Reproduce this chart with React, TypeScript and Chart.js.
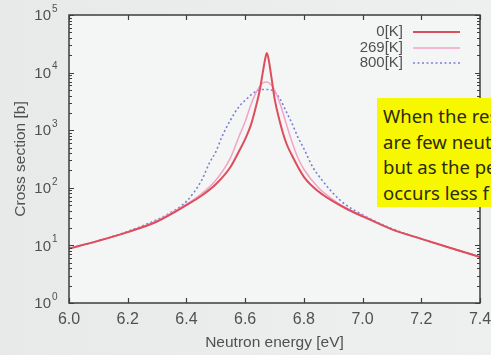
import React, { useEffect, useRef } from "react";
import { Chart, registerables } from "chart.js";

Chart.register(...registerables);

// ---- Data ----
const E_0K = [6.0, 6.1, 6.2, 6.3, 6.4, 6.45, 6.5, 6.55, 6.58, 6.6, 6.62, 6.64, 6.65, 6.66, 6.67, 6.674, 6.68, 6.69, 6.7, 6.72, 6.74, 6.76, 6.8, 6.85, 6.9, 6.95, 7.0, 7.1, 7.2, 7.3, 7.4];
const XS_0K = [8.8, 12, 17, 26, 50, 72, 115, 230, 440, 700, 1250, 3000, 5000, 10000, 19000, 22000, 17000, 8000, 3600, 1300, 600, 360, 155, 86, 58, 42, 32, 19, 13, 9, 6.3];

const E_269K = [6.0, 6.1, 6.2, 6.3, 6.4, 6.45, 6.5, 6.55, 6.58, 6.6, 6.62, 6.64, 6.66, 6.674, 6.69, 6.7, 6.72, 6.74, 6.76, 6.78, 6.8, 6.85, 6.9, 6.95, 7.0, 7.1, 7.2, 7.3, 7.4];
const XS_269K = [8.8, 12, 17, 27, 52, 78, 135, 330, 800, 1400, 2800, 4800, 6600, 6900, 6000, 5000, 2800, 1300, 620, 330, 210, 100, 62, 43, 33, 19, 13, 9, 6.3];

const E_800K = [6.0, 6.1, 6.2, 6.3, 6.35, 6.4, 6.45, 6.48, 6.5, 6.52, 6.55, 6.58, 6.6, 6.62, 6.64, 6.66, 6.68, 6.7, 6.72, 6.74, 6.76, 6.78, 6.8, 6.83, 6.86, 6.9, 6.94, 7.0, 7.1, 7.2, 7.3, 7.4];
const XS_800K = [8.8, 12, 17.5, 28, 38, 58, 130, 280, 420, 750, 1500, 2600, 3300, 4100, 4800, 5100, 5100, 4600, 3400, 2100, 1300, 750, 480, 230, 140, 80, 52, 34, 19.5, 13, 9, 6.3];

const SERIES_LABELS = ["0[K]", "269[K]", "800[K]"];
const X_TICKS = [6.0, 6.2, 6.4, 6.6, 6.8, 7.0, 7.2, 7.4];
const X_TICK_LABELS = ["6.0", "6.2", "6.4", "6.6", "6.8", "7.0", "7.2", "7.4"];
const Y_DECADES = [0, 1, 2, 3, 4, 5];
const Y_MINOR = [2, 3, 4, 5, 6, 7, 8, 9];
const X_TITLE = "Neutron energy [eV]";
const Y_TITLE = "Cross section [b]";
const NOTE_LINES = ["When the res", "are few neut", "but as the pe", "occurs less f"];

const toPoints = (xs: number[], ys: number[]) => xs.map((x, i) => ({ x, y: ys[i] }));

const FONT = '"Liberation Sans", Arial, sans-serif';
const TEXT = "#505050";
const FRAME = "#3d3d3d";

const framePlugin = {
  id: "framePlugin",
  beforeDatasetsDraw(chart: any) {
    const { ctx, chartArea: a } = chart;
    ctx.save();
    ctx.fillStyle = "#f4f6f5";
    ctx.fillRect(a.left, a.top, a.right - a.left, a.bottom - a.top);
    ctx.restore();
  },
  afterDatasetsDraw(chart: any) {
    const { ctx, chartArea: a } = chart;
    const xs = chart.scales.x;
    const ys = chart.scales.y;
    ctx.save();
    ctx.strokeStyle = FRAME;
    ctx.lineWidth = 1.5;
    ctx.strokeRect(a.left, a.top, a.right - a.left, a.bottom - a.top);

    ctx.lineWidth = 1.2;
    ctx.beginPath();
    X_TICKS.forEach((v) => {
      const px = Math.round(xs.getPixelForValue(v)) + 0.5;
      ctx.moveTo(px, a.bottom);
      ctx.lineTo(px, a.bottom - 5);
      ctx.moveTo(px, a.top);
      ctx.lineTo(px, a.top + 5);
    });
    Y_DECADES.forEach((d) => {
      const py = Math.round(ys.getPixelForValue(Math.pow(10, d))) + 0.5;
      ctx.moveTo(a.left, py);
      ctx.lineTo(a.left + 5, py);
      ctx.moveTo(a.right, py);
      ctx.lineTo(a.right - 5, py);
      if (d < 5) {
        Y_MINOR.forEach((m) => {
          const pm = Math.round(ys.getPixelForValue(m * Math.pow(10, d))) + 0.5;
          ctx.moveTo(a.left, pm);
          ctx.lineTo(a.left + 3, pm);
          ctx.moveTo(a.right, pm);
          ctx.lineTo(a.right - 3, pm);
        });
      }
    });
    ctx.stroke();

    // x tick labels
    ctx.fillStyle = TEXT;
    ctx.font = `16px ${FONT}`;
    ctx.textAlign = "center";
    ctx.textBaseline = "middle";
    X_TICKS.forEach((v, i) => {
      ctx.fillText(X_TICK_LABELS[i], xs.getPixelForValue(v), a.bottom + 17);
    });

    // y tick labels 10^n
    Y_DECADES.forEach((d) => {
      const py = ys.getPixelForValue(Math.pow(10, d));
      const xr = a.left - 18;
      ctx.font = `15px ${FONT}`;
      ctx.textAlign = "right";
      ctx.textBaseline = "middle";
      ctx.fillText("10", xr, py + 1);
      ctx.font = `10px ${FONT}`;
      ctx.textAlign = "left";
      ctx.fillText(String(d), xr + 1, py - 6);
    });

    // axis titles
    ctx.font = `15.5px ${FONT}`;
    ctx.textAlign = "center";
    ctx.textBaseline = "middle";
    ctx.fillText(X_TITLE, (a.left + a.right) / 2, a.bottom + 40);
    ctx.save();
    ctx.translate(21, (a.top + a.bottom) / 2);
    ctx.rotate(-Math.PI / 2);
    ctx.fillText(Y_TITLE, 0, 0);
    ctx.restore();

    // legend (text right-aligned, sample line to the right)
    const rowY = [a.top + 17, a.top + 33, a.top + 48];
    chart.data.datasets.forEach((ds: any, i: number) => {
      const y = rowY[i];
      ctx.font = `15px ${FONT}`;
      ctx.fillStyle = TEXT;
      ctx.textAlign = "right";
      ctx.textBaseline = "middle";
      ctx.fillText(ds.label, a.left + 334, y);
      ctx.save();
      ctx.strokeStyle = ds.borderColor;
      ctx.lineWidth = ds.borderWidth;
      ctx.setLineDash(ds.borderDash || []);
      ctx.beginPath();
      ctx.moveTo(a.left + 344, y);
      ctx.lineTo(a.left + 391, y);
      ctx.stroke();
      ctx.restore();
    });
    ctx.restore();
  },
};

export default function App() {
  const ref = useRef<HTMLCanvasElement | null>(null);

  useEffect(() => {
    if (!ref.current) return;
    const chart = new Chart(ref.current, {
      type: "line",
      data: {
        datasets: [
          {
            label: SERIES_LABELS[0],
            data: toPoints(E_0K, XS_0K),
            borderColor: "#dc4e5c",
            borderWidth: 2,
            pointRadius: 0,
            cubicInterpolationMode: "monotone",
          },
          {
            label: SERIES_LABELS[1],
            data: toPoints(E_269K, XS_269K),
            borderColor: "#f4a2c6",
            borderWidth: 1.5,
            pointRadius: 0,
            cubicInterpolationMode: "monotone",
          },
          {
            label: SERIES_LABELS[2],
            data: toPoints(E_800K, XS_800K),
            borderColor: "#7c7fd6",
            borderWidth: 1.6,
            borderDash: [2, 2.5],
            pointRadius: 0,
            cubicInterpolationMode: "monotone",
          },
        ],
      },
      options: {
        responsive: false,
        animation: false,
        layout: { padding: { left: 69, right: 11, top: 15, bottom: 52 } },
        scales: {
          x: { type: "linear", min: 6.0, max: 7.4, display: false },
          y: { type: "logarithmic", min: 1, max: 1e5, display: false },
        },
        plugins: { legend: { display: false }, tooltip: { enabled: false } },
      },
      plugins: [framePlugin],
    } as any);
    return () => chart.destroy();
  }, []);

  return (
    <div
      style={{
        position: "fixed",
        left: 0,
        top: 0,
        width: 491,
        height: 355,
        overflow: "hidden",
        background: "linear-gradient(to right, #e7eae9, #eef0ef)",
      }}
    >
      <canvas ref={ref} width={491} height={355} style={{ display: "block", width: 491, height: 355 }} />
      <div
        style={{
          position: "absolute",
          left: 377,
          top: 98,
          width: 114,
          height: 109,
          background: "#f7f700",
          overflow: "hidden",
          whiteSpace: "nowrap",
          boxSizing: "border-box",
          paddingLeft: 6,
          paddingTop: 5,
          fontFamily: '"Noto Sans", "Open Sans", sans-serif',
          fontSize: 18.5,
          lineHeight: "25.5px",
          color: "#2b2b10",
        }}
      >
        {NOTE_LINES.map((t, i) => (
          <div key={i}>{t}</div>
        ))}
      </div>
    </div>
  );
}
